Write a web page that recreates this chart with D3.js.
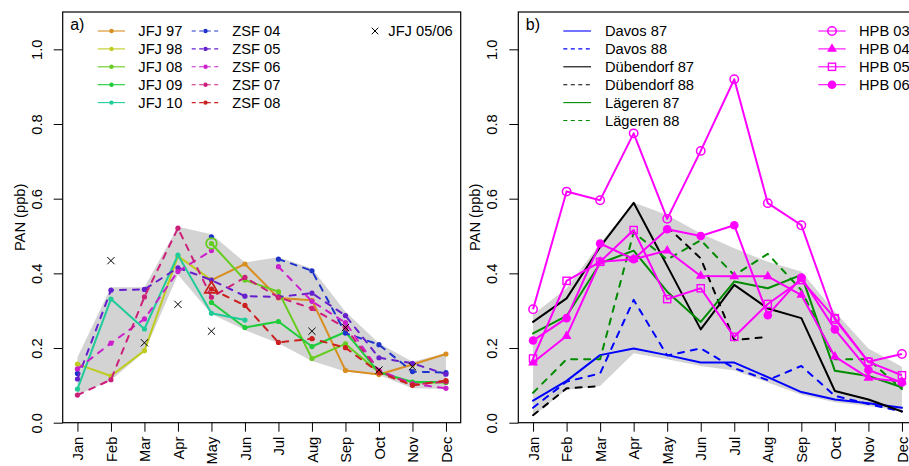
<!DOCTYPE html>
<html><head><meta charset="utf-8">
<script src="https://cdn.jsdelivr.net/npm/d3@7"></script>
<style>
body{margin:0;background:#fff}
svg{display:block;font-family:"Liberation Sans",Arial,Helvetica,sans-serif}
</style>
</head><body>
<svg id="c" width="909" height="466"></svg>
<script>
// ---------- data ----------
const months = ["Jan","Feb","Mar","Apr","May","Jun","Jul","Aug","Sep","Oct","Nov","Dec"];
const yTicks = [0, 0.2, 0.4, 0.6, 0.8, 1.0];

// panel a
const jfj97 = [null,null,null,null,0.382,0.425,0.334,0.328,0.140,0.129,0.156,0.184];
const jfj98 = [0.157,0.125,0.193,0.446,0.382,null,null,null,null,null,null,null];
const jfj08 = [null,null,null,null,0.480,0.382,0.351,0.172,0.211,0.135,0.108,0.108];
const jfj09 = [null,null,null,null,0.322,0.255,0.271,0.204,0.243,0.135,0.109,0.109];
const jfj10 = [0.090,0.331,0.251,0.449,0.293,0.275,null,null,null,null,null,null];
const zsf04 = [0.132,null,null,null,0.498,null,0.438,0.407,0.240,0.209,0.137,0.134];
const zsf05 = [0.117,0.355,0.357,0.415,0.382,0.339,0.337,0.347,0.287,0.174,0.159,0.130];
const zsf06 = [0.144,0.213,0.278,0.405,0.461,null,0.418,0.325,0.268,0.140,0.104,0.092];
const zsf07 = [0.074,0.115,0.337,0.521,0.336,0.389,0.336,0.306,0.254,0.138,0.102,0.110];
const zsf08 = [null,null,null,null,0.358,0.314,0.215,0.225,0.201,0.134,0.100,0.113];
const jfj0506 = [null,0.434,0.214,0.317,0.245,null,null,0.245,0.255,0.141,0.150,null];
const bandAHigh = [0.175,0.363,0.363,0.525,0.505,0.429,0.443,0.413,0.297,0.213,0.163,0.186];
const bandALow  = [0.074,0.114,0.190,0.396,0.291,0.248,0.213,0.165,0.137,0.128,0.092,0.090];

// panel b
const davos87 = [0.059,0.112,0.181,0.199,0.181,0.161,0.161,0.122,0.082,0.062,0.052,0.040];
const davos88 = [0.040,0.110,0.132,0.329,0.180,0.199,0.146,0.114,0.152,0.072,0.050,0.030];
const dub87   = [0.270,0.333,0.471,0.589,0.420,0.250,0.369,0.306,0.280,0.085,0.062,0.030];
const dub88   = [0.020,0.092,0.098,null,0.525,0.440,0.221,0.230,null,null,null,null];
const lag87   = [0.239,0.286,0.427,0.461,0.351,0.270,0.378,0.360,0.396,0.139,0.125,0.095];
const lag88   = [0.080,0.170,0.170,0.510,0.437,0.489,0.395,0.452,0.355,0.170,0.170,0.090];
const hpb03   = [0.304,0.619,0.596,0.775,0.546,0.728,0.920,0.588,0.529,0.277,0.163,0.184];
const hpb04   = [0.161,0.232,0.431,0.438,0.461,0.393,0.392,0.392,0.342,0.177,0.120,0.110];
const hpb05   = [0.172,0.380,0.431,0.516,0.331,0.360,0.230,0.318,0.382,0.280,0.163,0.127];
const hpb06   = [0.220,0.280,0.480,0.438,0.518,0.500,0.529,0.288,0.389,0.250,0.141,0.108];
const bandBHigh = [0.290,0.360,0.480,0.590,0.556,0.507,0.467,0.431,0.405,0.297,0.199,0.150];
const bandBLow  = [0.018,0.088,0.098,0.186,0.170,0.152,0.140,0.108,0.075,0.055,0.045,0.032];

// ---------- series definitions ----------
const seriesA = [
  {name:"JFJ 97", v:jfj97, color:"#D98E21", dash:null},
  {name:"JFJ 98", v:jfj98, color:"#BFCC1F", dash:null},
  {name:"JFJ 08", v:jfj08, color:"#66CC1F", dash:null, first:"circle"},
  {name:"JFJ 09", v:jfj09, color:"#1FCC3A", dash:null},
  {name:"JFJ 10", v:jfj10, color:"#1FCC99", dash:null},
  {name:"ZSF 04", v:zsf04, color:"#1F33CC", dash:"6,7"},
  {name:"ZSF 05", v:zsf05, color:"#661FCC", dash:"6,7"},
  {name:"ZSF 06", v:zsf06, color:"#CC1FCC", dash:"6,7"},
  {name:"ZSF 07", v:zsf07, color:"#CC1F7A", dash:"6,7"},
  {name:"ZSF 08", v:zsf08, color:"#CC1F1F", dash:"6,7", first:"triangle"}
];
const seriesB = [
  {name:"Davos 87", v:davos87, color:"#0000FF", dash:null},
  {name:"Davos 88", v:davos88, color:"#0000FF", dash:"6,7"},
  {name:"Dübendorf 87", v:dub87, color:"#000000", dash:null},
  {name:"Dübendorf 88", v:dub88, color:"#000000", dash:"6,7"},
  {name:"Lägeren 87", v:lag87, color:"#008B00", dash:null},
  {name:"Lägeren 88", v:lag88, color:"#008B00", dash:"6,7"}
];
const seriesHPB = [
  {name:"HPB 03", v:hpb03, sym:"ocircle"},
  {name:"HPB 04", v:hpb04, sym:"triangle"},
  {name:"HPB 05", v:hpb05, sym:"square"},
  {name:"HPB 06", v:hpb06, sym:"fcircle"}
];

// ---------- drawing ----------
const svg = d3.select("#c");
const FONT = "14.7px";
const yTopPx = 12, yBotPx = 422.7;

function makePanel(left, right, id, tag, bandLow, bandHigh) {
  const x = d3.scaleLinear().domain([0.56, 12.44]).range([left, right]);
  const y = d3.scaleLinear().domain([0, 1.1]).range([yBotPx, yTopPx]);
  const g = svg.append("g");
  g.append("clipPath").attr("id", id).append("rect")
    .attr("x", left).attr("y", yTopPx).attr("width", right - left).attr("height", yBotPx - yTopPx);
  const plot = g.append("g").attr("clip-path", `url(#${id})`);
  const area = d3.area().x((d, i) => x(i + 1)).y0((d, i) => y(bandLow[i])).y1(d => y(d));
  plot.append("path").datum(bandHigh).attr("d", area).attr("fill", "#D3D3D3");
  const ya = g.append("g").attr("transform", `translate(${left},0)`)
    .call(d3.axisLeft(y).tickValues(yTicks).tickSize(9).tickFormat(d3.format(".1f")));
  ya.select(".domain").remove();
  ya.selectAll("text").attr("x", null).attr("dy", null)
    .attr("transform", "translate(-21,0) rotate(-90)")
    .attr("text-anchor", "middle").attr("fill", "#000");
  const xa = g.append("g").attr("transform", `translate(0,${yBotPx})`)
    .call(d3.axisBottom(x).tickValues(d3.range(1, 13)).tickSize(9).tickFormat(i => months[i - 1]));
  xa.select(".domain").remove();
  xa.selectAll("text").attr("y", null).attr("dy", "0.35em")
    .attr("transform", "translate(0,14) rotate(-90)")
    .attr("text-anchor", "end").attr("fill", "#000");
  [ya, xa].forEach(a => a.attr("font-size", FONT).attr("font-family", null));
  g.append("text").attr("transform", `translate(${left - 38},${(yTopPx + yBotPx) / 2}) rotate(-90)`)
    .attr("text-anchor", "middle").attr("font-size", FONT).text("PAN (ppb)");
  g.append("text").attr("x", left + 7.5).attr("y", 30).attr("font-size", "16px").text(tag);
  g.append("rect").attr("x", left).attr("y", yTopPx).attr("width", right - left)
    .attr("height", yBotPx - yTopPx).attr("fill", "none").attr("stroke", "#000").attr("stroke-width", 1.2);
  return {x, y, plot, g};
}

const line = (x, y) => d3.line().defined(d => d != null).x((d, i) => x(i + 1)).y(d => y(d));

// ---- panel a ----
const A = makePanel(62.7, 460.7, "clipA", "a)", bandALow, bandAHigh);
seriesA.forEach(s => {
  A.plot.append("path").datum(s.v).attr("d", line(A.x, A.y)).attr("fill", "none")
    .attr("stroke", s.color).attr("stroke-width", 2).attr("stroke-linecap", "round")
    .attr("stroke-linejoin", "round").attr("stroke-dasharray", s.dash);
  A.plot.selectAll(null).data(s.v.map((d, i) => [i + 1, d]).filter(d => d[1] != null)).enter()
    .append("circle").attr("cx", d => A.x(d[0])).attr("cy", d => A.y(d[1])).attr("r", 2.6).attr("fill", s.color);
});
seriesA.filter(s => s.first).forEach(s => {
  const i = s.v.findIndex(d => d != null);
  const cx = A.x(i + 1), cy = A.y(s.v[i]);
  if (s.first === "circle") {
    A.plot.append("circle").attr("cx", cx).attr("cy", cy).attr("r", 5.3)
      .attr("fill", "none").attr("stroke", s.color).attr("stroke-width", 1.8);
  } else {
    A.plot.append("path").attr("transform", `translate(${cx},${cy})`)
      .attr("d", d3.symbol(d3.symbolTriangle, 75)()).attr("fill", "none")
      .attr("stroke", s.color).attr("stroke-width", 1.8);
  }
});
const xPath = "M-3.6,-3.6L3.6,3.6M-3.6,3.6L3.6,-3.6";
A.plot.selectAll(null).data(jfj0506.map((d, i) => [i + 1, d]).filter(d => d[1] != null)).enter()
  .append("path").attr("transform", d => `translate(${A.x(d[0])},${A.y(d[1])})`)
  .attr("d", xPath).attr("stroke", "#000").attr("stroke-width", 1).attr("fill", "none");

const legA = A.g.append("g").attr("font-size", FONT);
seriesA.forEach((s, k) => {
  const col = k < 5 ? 0 : 1, row = k % 5;
  const x0 = col === 0 ? 97.7 : 191.7, y0 = 31 + row * 17.9;
  legA.append("line").attr("x1", x0).attr("x2", x0 + 27.3).attr("y1", y0).attr("y2", y0)
    .attr("stroke", s.color).attr("stroke-width", 1.1).attr("stroke-dasharray", s.dash ? "4,3.5" : null);
  legA.append("circle").attr("cx", x0 + 13.8).attr("cy", y0).attr("r", 2.2).attr("fill", s.color);
  legA.append("text").attr("x", x0 + 40.6).attr("y", y0).attr("dy", "0.35em").text(s.name);
});
legA.append("path").attr("transform", "translate(375,31)").attr("d", "M-3.3,-3.3L3.3,3.3M-3.3,3.3L3.3,-3.3")
  .attr("stroke", "#000").attr("stroke-width", 1);
legA.append("text").attr("x", 388.3).attr("y", 31).attr("dy", "0.35em").text("JFJ 05/06");

// ---- panel b ----
const B = makePanel(518.3, 916.7, "clipB", "b)", bandBLow, bandBHigh);
seriesB.forEach(s => {
  B.plot.append("path").datum(s.v).attr("d", line(B.x, B.y)).attr("fill", "none")
    .attr("stroke", s.color).attr("stroke-width", 2).attr("stroke-linecap", "round")
    .attr("stroke-linejoin", "round").attr("stroke-dasharray", s.dash);
});
const MAG = "#FF00FF";
function marker(sel, sym, cx, cy) {
  if (sym === "ocircle") sel.append("circle").attr("cx", cx).attr("cy", cy).attr("r", 4.2)
    .attr("fill", "none").attr("stroke", MAG).attr("stroke-width", 1.5);
  else if (sym === "fcircle") sel.append("circle").attr("cx", cx).attr("cy", cy).attr("r", 4.3).attr("fill", MAG);
  else if (sym === "triangle") sel.append("path").attr("transform", `translate(${cx},${cy})`)
    .attr("d", d3.symbol(d3.symbolTriangle, 42)()).attr("fill", MAG);
  else sel.append("rect").attr("x", cx - 3.6).attr("y", cy - 3.6).attr("width", 7.2).attr("height", 7.2)
    .attr("fill", "none").attr("stroke", MAG).attr("stroke-width", 1.4);
}
seriesHPB.forEach(s => {
  B.plot.append("path").datum(s.v).attr("d", line(B.x, B.y)).attr("fill", "none")
    .attr("stroke", MAG).attr("stroke-width", 2).attr("stroke-linejoin", "round");
  s.v.forEach((d, i) => { if (d != null) marker(B.plot, s.sym, B.x(i + 1), B.y(d)); });
});

const legB = B.g.append("g").attr("font-size", FONT);
seriesB.forEach((s, k) => {
  const y0 = 31 + k * 17.9;
  legB.append("line").attr("x1", 563.3).attr("x2", 591).attr("y1", y0).attr("y2", y0)
    .attr("stroke", s.color).attr("stroke-width", 1.1).attr("stroke-dasharray", s.dash ? "4,3.5" : null);
  legB.append("text").attr("x", 605).attr("y", y0).attr("dy", "0.35em").text(s.name);
});
seriesHPB.forEach((s, k) => {
  const y0 = 31 + k * 17.9;
  legB.append("line").attr("x1", 818.3).attr("x2", 845.7).attr("y1", y0).attr("y2", y0)
    .attr("stroke", MAG).attr("stroke-width", 1.1);
  marker(legB, s.sym, 832, y0);
  legB.append("text").attr("x", 859).attr("y", y0).attr("dy", "0.35em").text(s.name);
});
</script>
</body></html>
